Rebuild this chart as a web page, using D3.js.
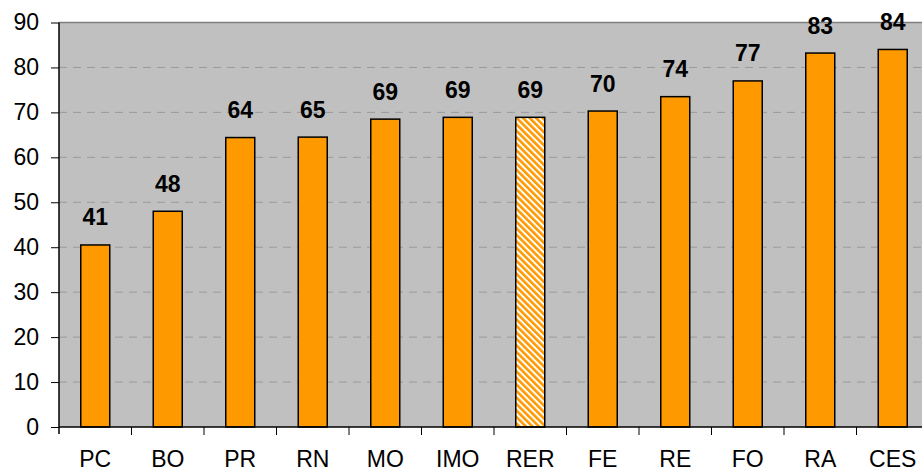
<!DOCTYPE html>
<html>
<head>
<meta charset="utf-8">
<script src="https://cdn.jsdelivr.net/npm/d3@7/dist/d3.min.js"></script>
<style>
  html, body { margin: 0; padding: 0; background: #ffffff; }
  svg { display: block; }
  text { font-family: "Liberation Sans", Arial, sans-serif; }
</style>
</head>
<body>
<div id="chart"></div>
<script>
// Categories and their values
const categories = ["PC", "BO", "PR", "RN", "MO", "IMO", "RER", "FE", "RE", "FO", "RA", "CES"];
const values = [40.5, 48.0, 64.4, 64.5, 68.5, 68.9, 68.9, 70.3, 73.5, 77.0, 83.2, 84.0];
const highlighted = ["RER"];
const yTicks = [0, 10, 20, 30, 40, 50, 60, 70, 80, 90];

const W = 922, H = 472;
const plot = { left: 59, right: 929, top: 22.5, bottom: 427 };

const svg = d3.select("#chart").append("svg")
  .attr("width", W).attr("height", H);

// Diagonal stripe fill for the highlighted bar
const defs = svg.append("defs");
const pat = defs.append("pattern")
  .attr("id", "stripes")
  .attr("patternUnits", "userSpaceOnUse")
  .attr("width", 4.6).attr("height", 10)
  .attr("patternTransform", "rotate(-45)");
pat.append("rect").attr("width", 4.6).attr("height", 10).attr("fill", "#ffffff");
pat.append("rect").attr("width", 2.6).attr("height", 10).attr("fill", "#FF9900");

const x = d3.scaleBand()
  .domain(categories)
  .range([plot.left, plot.right])
  .paddingInner(0.6)
  .paddingOuter(0.3);

const y = d3.scaleLinear()
  .domain([0, 90])
  .range([plot.bottom, plot.top]);

// Plot area background
svg.append("rect")
  .attr("x", plot.left).attr("y", plot.top)
  .attr("width", plot.right - plot.left)
  .attr("height", plot.bottom - plot.top)
  .attr("fill", "#C0C0C0");

// Dashed horizontal gridlines
svg.append("g")
  .selectAll("line")
  .data(yTicks.filter(t => t > 0 && t < 90))
  .join("line")
  .attr("x1", plot.left).attr("x2", plot.right)
  .attr("y1", d => y(d)).attr("y2", d => y(d))
  .attr("stroke", "#9a9a9a")
  .attr("stroke-width", 1)
  .attr("stroke-dasharray", "8,6");

// Top border of the plot area
svg.append("line")
  .attr("x1", plot.left).attr("x2", plot.right)
  .attr("y1", plot.top).attr("y2", plot.top)
  .attr("stroke", "#808080").attr("stroke-width", 1.5);

// Bars
const data = categories.map((c, i) => ({ cat: c, value: values[i] }));
svg.append("g")
  .selectAll("rect")
  .data(data)
  .join("rect")
  .attr("x", d => x(d.cat))
  .attr("y", d => y(d.value))
  .attr("width", x.bandwidth())
  .attr("height", d => y(0) - y(d.value))
  .attr("fill", d => highlighted.includes(d.cat) ? "url(#stripes)" : "#FF9900")
  .attr("stroke", "#000000")
  .attr("stroke-width", 1.5);

// Value labels above bars
svg.append("g")
  .selectAll("text")
  .data(data)
  .join("text")
  .attr("x", d => x(d.cat) + x.bandwidth() / 2)
  .attr("y", d => y(d.value) - 19.5)
  .attr("text-anchor", "middle")
  .attr("font-size", 23)
  .attr("font-weight", "bold")
  .attr("fill", "#000")
  .text(d => Math.round(d.value));

// Y axis
const yAxis = d3.axisLeft(y)
  .tickValues(yTicks)
  .tickSize(8)
  .tickPadding(12)
  .tickFormat(d3.format("d"));
const gy = svg.append("g")
  .attr("transform", `translate(${plot.left},0)`)
  .call(yAxis);
gy.select(".domain").remove();
gy.selectAll(".tick line").attr("stroke", "#000").attr("stroke-width", 1);
gy.selectAll(".tick text")
  .attr("font-size", 23)
  .attr("font-family", "'Liberation Sans', Arial, sans-serif")
  .attr("fill", "#000");
svg.append("line")
  .attr("x1", plot.left).attr("x2", plot.left)
  .attr("y1", plot.top).attr("y2", plot.bottom + 7)
  .attr("stroke", "#000").attr("stroke-width", 1.5);

// X axis: baseline, boundary ticks between categories, labels
svg.append("line")
  .attr("x1", plot.left).attr("x2", plot.right)
  .attr("y1", plot.bottom).attr("y2", plot.bottom)
  .attr("stroke", "#000").attr("stroke-width", 1.5);

const step = x.step();
const boundaries = categories.map(c => x(c) - step * x.paddingInner() / 2 - (x(c) === x(categories[0]) ? step * (x.paddingOuter() - x.paddingInner() / 2) : 0));
svg.append("g")
  .selectAll("line")
  .data(boundaries.slice(1))
  .join("line")
  .attr("x1", d => d).attr("x2", d => d)
  .attr("y1", plot.bottom).attr("y2", plot.bottom + 8)
  .attr("stroke", "#000").attr("stroke-width", 1);

svg.append("g")
  .selectAll("text")
  .data(categories)
  .join("text")
  .attr("x", d => x(d) + x.bandwidth() / 2)
  .attr("y", 467)
  .attr("text-anchor", "middle")
  .attr("font-size", 23)
  .attr("fill", "#000")
  .text(d => d);
</script>
</body>
</html>
